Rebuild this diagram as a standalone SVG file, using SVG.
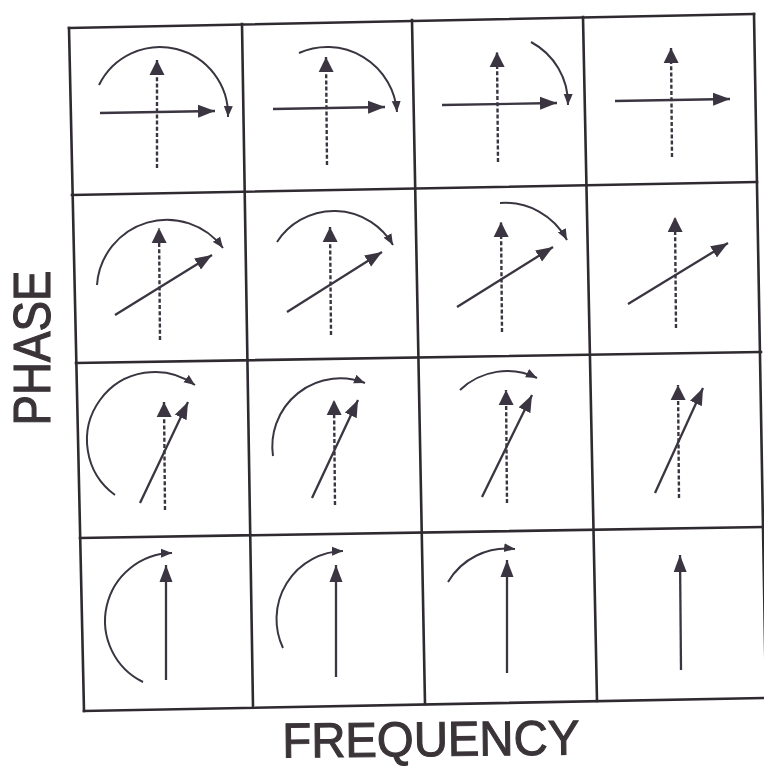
<svg xmlns="http://www.w3.org/2000/svg" width="764" height="767" viewBox="0 0 764 767">
<style>
.g{stroke:#2e2a30;stroke-width:2.6;fill:none;stroke-linecap:square}
.d{stroke:#3a3540;stroke-width:2.4;fill:none;stroke-dasharray:4 2.2;marker-end:url(#av)}
.v{stroke:#3a3540;stroke-width:2.3;fill:none;marker-end:url(#ah)}
.a{stroke:#3a3540;stroke-width:2;fill:none;marker-end:url(#as)}
.t{font-family:"Liberation Sans",Arial,sans-serif;fill:#3a3438;stroke:#3a3438;stroke-width:1.1;font-size:51px}
</style>
<defs>
<marker id="ah" markerUnits="userSpaceOnUse" markerWidth="18" markerHeight="14" refX="17" refY="7" orient="auto" viewBox="0 0 18 14"><path d="M0,0.5 L17,7 L0,13.5 z" fill="#3a3540"/></marker>
<marker id="av" markerUnits="userSpaceOnUse" markerWidth="16" markerHeight="16" refX="15" refY="8" orient="auto" viewBox="0 0 16 16"><path d="M0,0.5 L15,8 L0,15.5 z" fill="#3a3540"/></marker>
<marker id="as" markerUnits="userSpaceOnUse" markerWidth="12" markerHeight="10" refX="11" refY="5" orient="auto" viewBox="0 0 12 10"><path d="M0,0.5 L11,5 L0,9.5 z" fill="#3a3540"/></marker>
</defs>
<rect width="764" height="767" fill="#fff"/>
<g id="grid">
<path class="g" d="M69,28 L754,14 M72,195 L757,182 M76,363 L761,352 M80,538 L764,527 M84,711 L764,698"/>
<path class="g" d="M69,28 L84,711 M242,24 L253,707 M412,20 L425,704 M583,17 L597,701 M754,14 L766,698"/>
</g>
<g id="labels">
<text class="t" transform="translate(50,348) rotate(-90)" text-anchor="middle" textLength="155" lengthAdjust="spacingAndGlyphs">PHASE</text>
<text class="t" style="font-size:49px" transform="translate(431,756) rotate(-0.6)" text-anchor="middle" textLength="297" lengthAdjust="spacingAndGlyphs">FREQUENCY</text>
</g>
<g id="connectors">
<g id="cell-r1c1"><path class="d" d="M157,168 L157,60"/><path class="v" d="M100,113 L215,111"/><path class="a" d="M99,85 A68,68 0 0 1 228,117"/></g>
<g id="cell-r1c2"><path class="d" d="M327,165 L326,57"/><path class="v" d="M273,109 L385,107"/><path class="a" d="M299,53 A70,70 0 0 1 397,112"/></g>
<g id="cell-r1c3"><path class="d" d="M498,162 L497,52"/><path class="v" d="M442,105 L557,103"/><path class="a" d="M531,42 A70,70 0 0 1 568,105"/></g>
<g id="cell-r1c4"><path class="d" d="M672,157 L671,48"/><path class="v" d="M615,101 L730,99"/></g>
<g id="cell-r2c1"><path class="d" d="M160,340 L159,228"/><path class="v" d="M115,315 L212,255"/><path class="a" d="M97,285 A70,70 0 0 1 223,248"/></g>
<g id="cell-r2c2"><path class="d" d="M331,335 L330,227"/><path class="v" d="M287,312 L382,252"/><path class="a" d="M277,242 A68,68 0 0 1 393,245"/></g>
<g id="cell-r2c3"><path class="d" d="M502,332 L501,222"/><path class="v" d="M457,307 L553,247"/><path class="a" d="M500,203 A70,70 0 0 1 567,240"/></g>
<g id="cell-r2c4"><path class="d" d="M676,328 L675,217"/><path class="v" d="M628,304 L728,243"/></g>
<g id="cell-r3c1"><path class="d" d="M165,510 L164,402"/><path class="v" d="M140,503 L188,402"/><path class="a" d="M115,495 A68,68 0 0 1 195,385"/></g>
<g id="cell-r3c2"><path class="d" d="M335,505 L334,400"/><path class="v" d="M312,498 L358,400"/><path class="a" d="M273,456 A68,68 0 0 1 365,383"/></g>
<g id="cell-r3c3"><path class="d" d="M507,503 L506,390"/><path class="v" d="M482,497 L532,395"/><path class="a" d="M460,390 A68,68 0 0 1 537,378"/></g>
<g id="cell-r3c4"><path class="d" d="M679,498 L678,385"/><path class="v" d="M655,493 L703,388"/></g>
<g id="cell-r4c1"><path class="v" d="M166,680 L166,565"/><path class="a" d="M143,682 A68,68 0 0 1 172,553"/></g>
<g id="cell-r4c2"><path class="v" d="M336,677 L336,565"/><path class="a" d="M283,648 A68,68 0 0 1 343,551"/></g>
<g id="cell-r4c3"><path class="v" d="M507,673 L507,560"/><path class="a" d="M448,582 A68,68 0 0 1 515,549"/></g>
<g id="cell-r4c4"><path class="v" d="M681,670 L680,555"/></g>
</g>
</svg>
